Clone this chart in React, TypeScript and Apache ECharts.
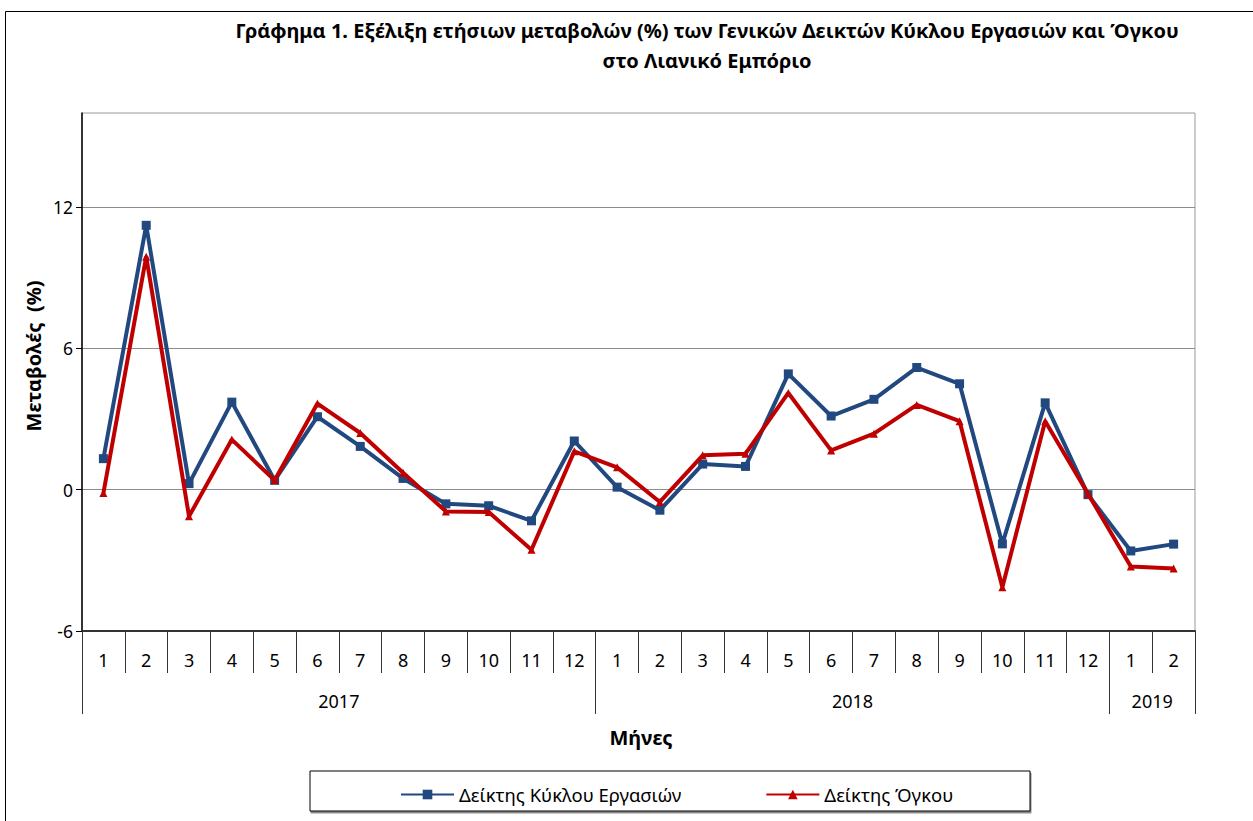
import React, { useEffect, useRef } from "react";
import * as echarts from "echarts";

const months = ["1","2","3","4","5","6","7","8","9","10","11","12","1","2","3","4","5","6","7","8","9","10","11","12","1","2"];
const years = ["2017", "2018", "2019"];
const yearMidpoints = [6, 18, 25];
const yearBoundaries = [0, 12, 24, 26];
const yTicks = [-6, 0, 6, 12];

const turnover = [1.32, 11.23, 0.26, 3.72, 0.4, 3.1, 1.84, 0.48, -0.6, -0.68, -1.32, 2.07, 0.11, -0.87, 1.09, 0.99, 4.92, 3.13, 3.84, 5.19, 4.5, -2.3, 3.69, -0.21, -2.6, -2.31];
const volume = [-0.14, 9.9, -1.13, 2.13, 0.4, 3.66, 2.41, 0.72, -0.92, -0.95, -2.55, 1.63, 0.95, -0.52, 1.46, 1.53, 4.11, 1.67, 2.38, 3.6, 2.91, -4.14, 2.91, -0.17, -3.26, -3.35];

const seriesNames = ["Δείκτης Κύκλου Εργασιών", "Δείκτης Όγκου"];
const titleLines = [
  "Γράφημα 1. Εξέλιξη ετήσιων μεταβολών (%) των Γενικών Δεικτών Κύκλου Εργασιών και Όγκου",
  "στο Λιανικό Εμπόριο",
];
const yAxisTitle = "Μεταβολές  (%)";
const xAxisTitle = "Μήνες";

const FONT = "'Noto Sans', 'DejaVu Sans', sans-serif";

export default function App() {
  const ref = useRef<HTMLDivElement>(null);
  useEffect(() => {
    document.body.style.margin = "0";
    const chart = echarts.init(ref.current!, null, { renderer: "svg" });
    const option: any = {
      animation: false,
      backgroundColor: "#ffffff",
      textStyle: { fontFamily: FONT },
      grid: {
        left: 82,
        top: 113,
        right: 58,
        bottom: 190,
        show: true,
        borderColor: "#9a9a9a",
        borderWidth: 1,
        backgroundColor: "#ffffff",
      },
      legend: {
        left: 395,
        top: 780,
        itemWidth: 53,
        itemHeight: 12,
        itemGap: 84,
        textStyle: { fontFamily: FONT, fontSize: 18.5, color: "#000" },
        data: seriesNames,
      },
      xAxis: [
        {
          type: "category",
          data: months,
          boundaryGap: true,
          axisLine: { onZero: false, lineStyle: { color: "#333", width: 2 } },
          axisTick: { show: true, interval: 0, length: 42, lineStyle: { color: "#333", width: 1 } },
          axisLabel: { interval: 0, margin: 20, fontSize: 18, color: "#000", fontFamily: FONT },
          splitLine: { show: false },
        },
        {
          type: "value",
          min: 0,
          max: 26,
          position: "bottom",
          axisLine: { show: false, onZero: false },
          axisTick: { show: true, customValues: yearBoundaries, length: 83, lineStyle: { color: "#333", width: 1 } },
          axisLabel: {
            show: true,
            customValues: yearMidpoints,
            margin: 61,
            fontSize: 18,
            color: "#000",
            fontFamily: FONT,
            formatter: (v: number) => years[yearMidpoints.indexOf(v)] ?? "",
          },
          splitLine: { show: false },
        },
      ],
      yAxis: {
        type: "value",
        min: -6,
        max: 16,
        interval: 6,
        axisLine: { show: true, lineStyle: { color: "#000", width: 1.5 } },
        axisTick: { show: true, customValues: yTicks, length: 6, lineStyle: { color: "#000" } },
        axisLabel: { customValues: yTicks, margin: 9, fontSize: 17.5, color: "#000", fontFamily: FONT },
        splitLine: { show: true, lineStyle: { color: "#8c8c8c", width: 1 } },
      },
      series: [
        {
          name: seriesNames[0],
          type: "line",
          data: turnover,
          xAxisIndex: 0,
          color: "#21497F",
          lineStyle: { width: 4, color: "#21497F" },
          symbol: "rect",
          symbolSize: 9,
          itemStyle: { color: "#21497F" },
          z: 3,
        },
        {
          name: seriesNames[1],
          type: "line",
          data: volume,
          xAxisIndex: 0,
          color: "#C00000",
          lineStyle: { width: 4, color: "#C00000" },
          symbol: "triangle",
          symbolSize: 8,
          itemStyle: { color: "#C00000" },
          z: 4,
        },
      ],
      graphic: [
        {
          type: "rect",
          left: 3,
          top: 9,
          shape: { x: 0, y: 0, width: 1300, height: 900 },
          style: { fill: "none", stroke: "#000", lineWidth: 1 },
          silent: true,
          z: -10,
        },
        {
          type: "text",
          x: 707,
          y: 30,
          style: { text: titleLines[0], fontFamily: FONT, fontSize: 20, fontWeight: "bold", fill: "#000", align: "center", verticalAlign: "middle" },
        },
        {
          type: "text",
          x: 707,
          y: 60,
          style: { text: titleLines[1], fontFamily: FONT, fontSize: 20, fontWeight: "bold", fill: "#000", align: "center", verticalAlign: "middle" },
        },
        {
          type: "text",
          x: 33,
          y: 356,
          rotation: Math.PI / 2,
          style: { text: yAxisTitle, fontFamily: FONT, fontSize: 20, fontWeight: "bold", fill: "#000", align: "center", verticalAlign: "middle" },
        },
        {
          type: "text",
          x: 641,
          y: 737,
          style: { text: xAxisTitle, fontFamily: FONT, fontSize: 20, fontWeight: "bold", fill: "#000", align: "center", verticalAlign: "middle" },
        },
        {
          type: "rect",
          shape: { x: 310, y: 771, width: 720, height: 40 },
          style: { fill: "#fff", stroke: "#000", lineWidth: 1, shadowColor: "rgba(0,0,0,0.45)", shadowOffsetX: 1, shadowOffsetY: 2, shadowBlur: 1 },
          z: -1,
          silent: true,
        },
      ],
    };
    chart.setOption(option);
    return () => chart.dispose();
  }, []);
  return <div ref={ref} style={{ position: "fixed", left: 0, top: 0, width: 1253, height: 821 }} />;
}
